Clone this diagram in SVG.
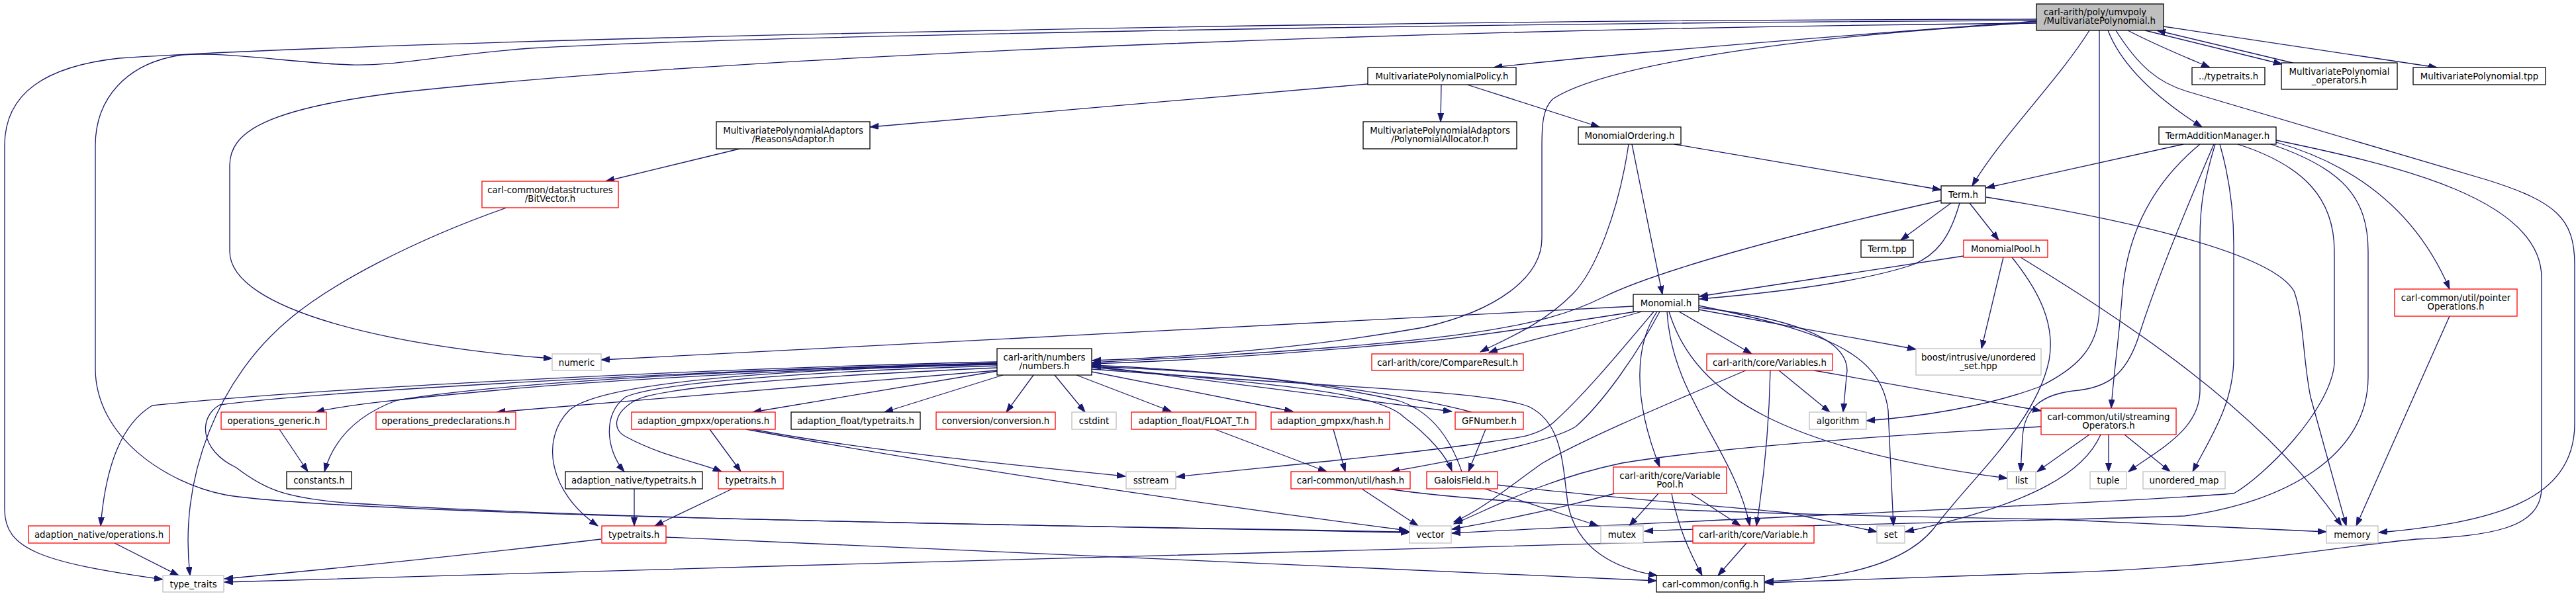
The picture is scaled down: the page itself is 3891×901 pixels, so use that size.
<svg xmlns="http://www.w3.org/2000/svg" width="3891" height="901" viewBox="0 0 3891 901">
<style>
.e{fill:none;stroke:#191970;stroke-width:1.3;marker-end:url(#a)}
rect{fill:#fff;stroke-width:1.3}
.b rect{stroke:#000}
.r rect{stroke:#ff0000}
.g rect{stroke:#bfbfbf}
#root rect{fill:#bfbfbf;stroke:#000}
text{font-family:"DejaVu Sans",sans-serif;font-size:13.33px;fill:#000;text-anchor:middle}
#root text{text-anchor:start}
</style>
<defs>
<marker id="a" markerUnits="userSpaceOnUse" markerWidth="14" markerHeight="10" refX="13" refY="4.5" orient="auto">
<path d="M0,0 L13,4.5 L0,9 Z" fill="#191970" stroke="#191970" stroke-width="1"/>
</marker>
</defs>
<rect x="0" y="0" width="3891" height="901" fill="#fff" stroke="none"/>
<g id="edges">
<path class="e" d="M3076,32 C2700,60 2400,85 2256,102"/>
<path class="e" d="M3156,46 C3110,120 3020,210 2979,281"/>
<path class="e" d="M3214,46 C3260,70 3310,90 3338,102"/>
<path class="e" d="M3240,46 L3447,97"/>
<path class="e" d="M3463,95 L3258,46"/>
<path class="e" d="M3268,40 L3681,102"/>
<path class="e" d="M3184,46 C3205,100 3260,150 3326,192"/>
<path class="e" d="M3196,46 C3230,100 3260,125 3303,138 L3760,273 C3860,305 3889,330 3889,400 L3889,640 C3889,760 3760,790 3593,805"/>
<path class="e" d="M3076,34 C2700,55 2420,100 2345,150 C2330,165 2329,190 2329,220 L2329,360 C2329,420 2260,470 2150,495 C1980,525 1800,540 1650,545"/>
<path class="e" d="M3076,35 C2300,42 1200,75 600,140 C400,165 347,200 347,250 L347,380 C347,470 600,525 834,542"/>
<path class="e" d="M3076,29 C2000,30 600,60 180,88 C70,100 7,140 7,220 L7,770 C7,830 60,850 246,876"/>
<path class="e" d="M3076,31 C2200,35 1100,55 800,73 C650,85 600,100 530,98 C450,96 350,78 275,83 C190,95 144,150 144,220 L144,557 C144,660 250,730 340,748 C500,775 1300,790 2129,805"/>
<path class="e" d="M3171,46 L3171,465 C3171,530 3130,560 3080,585 C3000,615 2900,630 2819,636"/>
<path class="e" d="M2066,127 L1314,192"/>
<path class="e" d="M2177,128 L2176,184"/>
<path class="e" d="M2216,128 L2416,192"/>
<path class="e" d="M1117,225 L915,274"/>
<path class="e" d="M765,314 C620,365 500,430 440,480 C330,570 270,720 287,870"/>
<path class="e" d="M2529,218 L2932,287"/>
<path class="e" d="M2465,218 L2511,445"/>
<path class="e" d="M2460,218 C2445,320 2410,410 2375,445 C2330,490 2280,510 2236,532"/>
<path class="e" d="M3298,218 L3000,284"/>
<path class="e" d="M3323,218 C3260,270 3215,340 3206,440 C3200,520 3192,570 3189,617"/>
<path class="e" d="M3344,218 C3300,320 3255,430 3230,510 C3210,570 3180,585 3140,590 C3080,595 3058,620 3055,660 L3052,713"/>
<path class="e" d="M3346,218 C3330,270 3323,310 3323,360 L3323,590 C3323,650 3260,680 3215,713"/>
<path class="e" d="M3353,218 C3368,270 3374,320 3374,370 L3374,540 C3374,610 3340,660 3312,713"/>
<path class="e" d="M3380,218 C3480,250 3526,300 3526,380 L3526,550 C3520,620 3420,720 3374,746 C3200,760 2600,785 2193,806"/>
<path class="e" d="M3430,218 C3540,255 3577,300 3577,380 L3577,570 C3577,690 3450,760 3300,780 C3000,790 2700,793 2484,803"/>
<path class="e" d="M3438,215 C3560,250 3650,320 3700,437"/>
<path class="e" d="M3438,212 C3620,250 3839,300 3839,420 L3839,737 C3839,800 3760,810 3650,815 C3500,830 3350,860 3100,866 C2900,872 2750,878 2666,881"/>
<path class="e" d="M2947,307 L2871,363"/>
<path class="e" d="M2975,307 L3019,363"/>
<path class="e" d="M2960,307 C2945,360 2925,385 2890,400 C2800,430 2650,445 2567,452"/>
<path class="e" d="M2932,303 C2700,355 2500,410 2420,450 C2330,495 2200,520 1650,548"/>
<path class="e" d="M3000,298 C3200,330 3430,380 3465,440 C3480,480 3478,540 3490,600 L3544,795"/>
<path class="e" d="M2966,387 L2567,448"/>
<path class="e" d="M3026,389 L2993,527"/>
<path class="e" d="M3039,389 C3080,440 3105,490 3095,545 C3075,640 2980,720 2920,800 C2870,860 2760,876 2666,879"/>
<path class="e" d="M3052,389 C3200,480 3420,620 3537,795"/>
<path class="e" d="M2467,463 L908,544"/>
<path class="e" d="M2471,471 C2350,490 2200,512 2150,516 C1950,535 1800,545 1650,550"/>
<path class="e" d="M2480,471 C2400,495 2300,515 2249,533"/>
<path class="e" d="M2536,471 L2646,535"/>
<path class="e" d="M2566,465 C2700,480 2790,510 2790,560 L2784,623"/>
<path class="e" d="M2566,468 L2894,528"/>
<path class="e" d="M2566,462 C2750,500 2840,530 2852,620 L2860,795"/>
<path class="e" d="M2521,471 C2560,600 2700,680 3032,723"/>
<path class="e" d="M2518,471 C2525,600 2620,680 2643,795"/>
<path class="e" d="M2503,471 C2470,520 2465,600 2507,706"/>
<path class="e" d="M2498,471 C2440,540 2390,600 2345,640 C2320,660 2290,662 2250,668 C2100,690 1900,707 1777,721"/>
<path class="e" d="M2507,471 C2470,540 2420,610 2380,645 C2340,670 2200,695 2101,713"/>
<path class="e" d="M1649,558 C2000,585 2250,590 2310,615 C2360,640 2360,700 2368,760 C2380,830 2440,860 2503,870"/>
<path class="e" d="M1649,553 L2193,622"/>
<path class="e" d="M2223,623 C2100,590 1850,560 1650,552"/>
<path class="e" d="M1649,555 C1900,580 2080,590 2120,630 C2160,660 2185,690 2193,712"/>
<path class="e" d="M2208,713 C2190,660 2160,620 2110,605 C1950,570 1800,560 1650,554"/>
<path class="e" d="M1626,567 L1769,622"/>
<path class="e" d="M1649,562 L1953,622"/>
<path class="e" d="M1593,567 L1639,623"/>
<path class="e" d="M1561,567 L1520,623"/>
<path class="e" d="M1515,567 L1336,623"/>
<path class="e" d="M1506,561 L1137,623"/>
<path class="e" d="M1506,556 C1200,570 1000,585 960,605 C925,625 925,650 945,660 C1000,690 1060,700 1090,713"/>
<path class="e" d="M1506,553 C1200,562 990,580 945,600 C910,625 915,680 943,713"/>
<path class="e" d="M1506,551 C1100,560 900,585 860,620 C815,665 830,745 903,795"/>
<path class="e" d="M1506,549 C1150,560 850,580 750,590 C620,602 520,612 477,623"/>
<path class="e" d="M1506,560 L750,623"/>
<path class="e" d="M1506,550 C1100,558 750,580 600,605 C545,625 505,660 490,713"/>
<path class="e" d="M1506,547 C1100,556 500,585 230,613 C185,640 160,700 152,795"/>
<path class="e" d="M1506,549 C1100,558 500,590 332,612 C300,630 300,680 357,707 C400,740 430,752 520,760 C900,785 1500,793 2129,804"/>
<path class="e" d="M422,649 L465,713"/>
<path class="e" d="M173,821 L270,870"/>
<path class="e" d="M1072,649 L1119,713"/>
<path class="e" d="M1137,649 C1300,680 1500,700 1700,720"/>
<path class="e" d="M1127,649 C1400,700 1800,760 2126,802"/>
<path class="e" d="M1106,739 L989,795"/>
<path class="e" d="M958,739 L958,795"/>
<path class="e" d="M908,815 C700,840 500,860 339,875"/>
<path class="e" d="M1006,812 C1400,830 1900,850 2502,878"/>
<path class="e" d="M2557,818 C2000,830 1500,845 1200,855 C900,865 600,872 339,880"/>
<path class="e" d="M1835,649 L2004,713"/>
<path class="e" d="M2014,649 L2032,713"/>
<path class="e" d="M2244,649 L2218,713"/>
<path class="e" d="M2057,739 L2142,795"/>
<path class="e" d="M2096,739 C2300,770 2800,780 3100,785 L3514,804"/>
<path class="e" d="M2261,733 C2400,750 2600,765 2700,775 L2835,804"/>
<path class="e" d="M2243,739 L2414,795"/>
<path class="e" d="M2505,746 L2461,795"/>
<path class="e" d="M2554,746 L2629,795"/>
<path class="e" d="M2525,746 C2535,800 2555,840 2571,870"/>
<path class="e" d="M2439,746 C2350,770 2250,790 2193,800"/>
<path class="e" d="M2638,821 L2595,870"/>
<path class="e" d="M2687,560 L2764,623"/>
<path class="e" d="M2674,560 C2672,650 2665,720 2653,795"/>
<path class="e" d="M2740,560 L3083,621"/>
<path class="e" d="M2637,560 C2520,610 2400,660 2330,700 C2280,735 2240,770 2196,789"/>
<path class="e" d="M3156,657 L3077,713"/>
<path class="e" d="M3185,657 L3185,713"/>
<path class="e" d="M3209,657 L3278,713"/>
<path class="e" d="M3173,657 C3150,710 3080,760 2878,804"/>
<path class="e" d="M3083,645 C2900,655 2600,675 2450,700 C2330,725 2250,770 2196,792"/>
<path class="e" d="M3700,478 L3559,795"/>
</g>
<g id="root"><rect x="3076" y="6" width="192" height="40"/><text x="3087" y="22.5">carl-arith/poly/umvpoly</text><text x="3087" y="36">/MultivariatePolynomial.h</text></g>
<g id="n_policy" class="b"><rect x="2066" y="102" width="224" height="26"/><text x="2178" y="120">MultivariatePolynomialPolicy.h</text></g>
<g id="n_typetraits_up" class="b"><rect x="3311" y="102" width="110" height="26"/><text x="3366" y="120">../typetraits.h</text></g>
<g id="n_operators" class="b"><rect x="3446" y="95" width="175" height="40"/><text x="3533.5" y="112.5">MultivariatePolynomial</text><text x="3533.5" y="126">_operators.h</text></g>
<g id="n_tpp" class="b"><rect x="3645" y="102" width="200" height="26"/><text x="3745" y="120">MultivariatePolynomial.tpp</text></g>
<g id="n_reasons" class="b"><rect x="1082" y="184" width="232" height="41"/><text x="1198" y="201.5">MultivariatePolynomialAdaptors</text><text x="1198" y="215">/ReasonsAdaptor.h</text></g>
<g id="n_allocator" class="b"><rect x="2059" y="184" width="232" height="41"/><text x="2175" y="201.5">MultivariatePolynomialAdaptors</text><text x="2175" y="215">/PolynomialAllocator.h</text></g>
<g id="n_ordering" class="b"><rect x="2384" y="192" width="155" height="26"/><text x="2461.5" y="210">MonomialOrdering.h</text></g>
<g id="n_tam" class="b"><rect x="3261" y="192" width="177" height="26"/><text x="3349.5" y="210">TermAdditionManager.h</text></g>
<g id="n_bitvector" class="r"><rect x="728" y="274" width="206" height="40"/><text x="831" y="291.5">carl-common/datastructures</text><text x="831" y="305">/BitVector.h</text></g>
<g id="n_term" class="b"><rect x="2932" y="281" width="67" height="26"/><text x="2965.5" y="299">Term.h</text></g>
<g id="n_pointer" class="r"><rect x="3617" y="437" width="185" height="41"/><text x="3709.5" y="454.5">carl-common/util/pointer</text><text x="3709.5" y="468">Operations.h</text></g>
<g id="n_termtpp" class="b"><rect x="2811" y="363" width="79" height="26"/><text x="2850.5" y="381">Term.tpp</text></g>
<g id="n_monomialpool" class="r"><rect x="2966" y="363" width="127" height="26"/><text x="3029.5" y="381">MonomialPool.h</text></g>
<g id="n_monomial" class="b"><rect x="2467" y="445" width="99" height="26"/><text x="2516.5" y="463">Monomial.h</text></g>
<g id="n_numeric" class="g"><rect x="834" y="535" width="74" height="25"/><text x="871" y="552.5">numeric</text></g>
<g id="n_numbers" class="b"><rect x="1506" y="527" width="143" height="40"/><text x="1577.5" y="544.5">carl-arith/numbers</text><text x="1577.5" y="558">/numbers.h</text></g>
<g id="n_compare" class="r"><rect x="2072" y="535" width="229" height="25"/><text x="2186.5" y="552.5">carl-arith/core/CompareResult.h</text></g>
<g id="n_variables" class="r"><rect x="2578" y="535" width="190" height="25"/><text x="2673" y="552.5">carl-arith/core/Variables.h</text></g>
<g id="n_boost" class="g"><rect x="2894" y="527" width="189" height="40"/><text x="2988.5" y="544.5">boost/intrusive/unordered</text><text x="2988.5" y="558">_set.hpp</text></g>
<g id="n_opgeneric" class="r"><rect x="334" y="623" width="159" height="26"/><text x="413.5" y="641">operations_generic.h</text></g>
<g id="n_oppredecl" class="r"><rect x="568" y="623" width="211" height="26"/><text x="673.5" y="641">operations_predeclarations.h</text></g>
<g id="n_gmpops" class="r"><rect x="954" y="623" width="217" height="26"/><text x="1062.5" y="641">adaption_gmpxx/operations.h</text></g>
<g id="n_floattt" class="b"><rect x="1195" y="623" width="195" height="26"/><text x="1292.5" y="641">adaption_float/typetraits.h</text></g>
<g id="n_conversion" class="r"><rect x="1414" y="623" width="180" height="26"/><text x="1504" y="641">conversion/conversion.h</text></g>
<g id="n_cstdint" class="g"><rect x="1619" y="623" width="67" height="26"/><text x="1652.5" y="641">cstdint</text></g>
<g id="n_floatt" class="r"><rect x="1709" y="623" width="188" height="26"/><text x="1803" y="641">adaption_float/FLOAT_T.h</text></g>
<g id="n_gmphash" class="r"><rect x="1920" y="623" width="179" height="26"/><text x="2009.5" y="641">adaption_gmpxx/hash.h</text></g>
<g id="n_gfnumber" class="r"><rect x="2198" y="623" width="103" height="26"/><text x="2249.5" y="641">GFNumber.h</text></g>
<g id="n_algorithm" class="g"><rect x="2733" y="623" width="86" height="26"/><text x="2776" y="641">algorithm</text></g>
<g id="n_streaming" class="r"><rect x="3083" y="617" width="204" height="40"/><text x="3185" y="634.5">carl-common/util/streaming</text><text x="3185" y="648">Operators.h</text></g>
<g id="n_constants" class="b"><rect x="433" y="713" width="98" height="26"/><text x="482" y="731">constants.h</text></g>
<g id="n_nativett" class="b"><rect x="854" y="713" width="207" height="26"/><text x="957.5" y="731">adaption_native/typetraits.h</text></g>
<g id="n_gmptt" class="r"><rect x="1085" y="713" width="98" height="26"/><text x="1134" y="731">typetraits.h</text></g>
<g id="n_sstream" class="g"><rect x="1701" y="713" width="75" height="26"/><text x="1738.5" y="731">sstream</text></g>
<g id="n_hash" class="r"><rect x="1950" y="713" width="180" height="26"/><text x="2040" y="731">carl-common/util/hash.h</text></g>
<g id="n_galois" class="r"><rect x="2155" y="713" width="107" height="26"/><text x="2208.5" y="731">GaloisField.h</text></g>
<g id="n_varpool" class="r"><rect x="2437" y="706" width="171" height="40"/><text x="2522.5" y="723.5">carl-arith/core/Variable</text><text x="2522.5" y="737">Pool.h</text></g>
<g id="n_list" class="g"><rect x="3032" y="713" width="43" height="26"/><text x="3053.5" y="731">list</text></g>
<g id="n_tuple" class="g"><rect x="3157" y="713" width="55" height="26"/><text x="3184.5" y="731">tuple</text></g>
<g id="n_umap" class="g"><rect x="3237" y="713" width="124" height="26"/><text x="3299" y="731">unordered_map</text></g>
<g id="n_nativeops" class="r"><rect x="43" y="795" width="213" height="26"/><text x="149.5" y="813">adaption_native/operations.h</text></g>
<g id="n_typetraits" class="r"><rect x="909" y="795" width="97" height="26"/><text x="957.5" y="813">typetraits.h</text></g>
<g id="n_vector" class="g"><rect x="2129" y="795" width="63" height="26"/><text x="2160.5" y="813">vector</text></g>
<g id="n_mutex" class="g"><rect x="2418" y="795" width="64" height="26"/><text x="2450" y="813">mutex</text></g>
<g id="n_variable" class="r"><rect x="2557" y="795" width="183" height="26"/><text x="2648.5" y="813">carl-arith/core/Variable.h</text></g>
<g id="n_set" class="g"><rect x="2835" y="795" width="42" height="26"/><text x="2856" y="813">set</text></g>
<g id="n_memory" class="g"><rect x="3514" y="795" width="78" height="26"/><text x="3553" y="813">memory</text></g>
<g id="n_type_traits" class="g"><rect x="246" y="870" width="92" height="25"/><text x="292" y="887.5">type_traits</text></g>
<g id="n_config" class="b"><rect x="2502" y="870" width="163" height="25"/><text x="2583.5" y="887.5">carl-common/config.h</text></g>
</svg>
